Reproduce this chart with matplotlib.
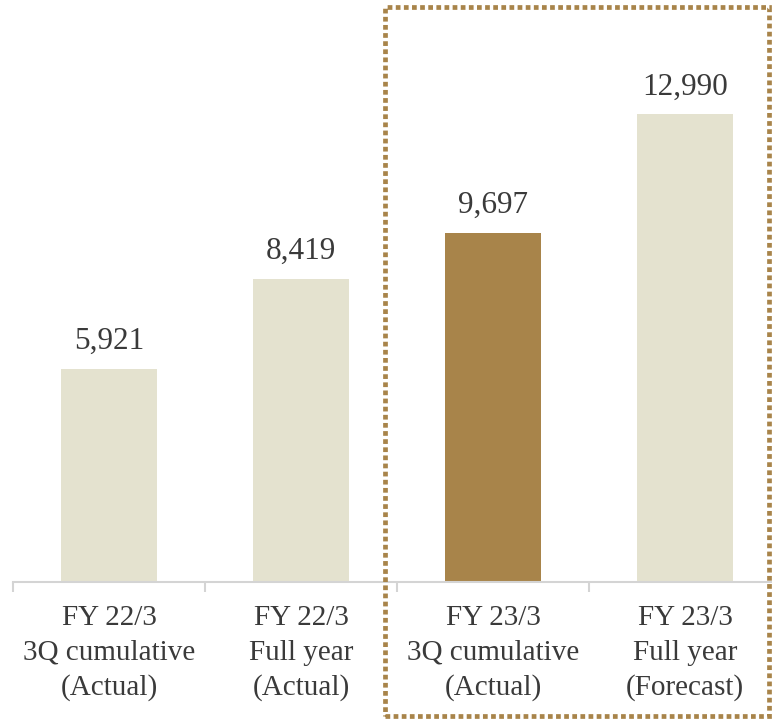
import matplotlib
matplotlib.use("Agg")
import matplotlib.pyplot as plt
from matplotlib.patches import Rectangle

# Sales figures by period
categories = [
    "FY 22/3\n3Q cumulative\n(Actual)",
    "FY 22/3\nFull year\n(Actual)",
    "FY 23/3\n3Q cumulative\n(Actual)",
    "FY 23/3\nFull year\n(Forecast)",
]
values = [5921, 8419, 9697, 12990]
bar_colors = ["#E4E2CF", "#E4E2CF", "#A8844A", "#E4E2CF"]

TEXT = "#3a3a3a"
W, H = 772, 721
plt.rcParams["font.family"] = ["Liberation Serif", "DejaVu Serif"]

fig = plt.figure(figsize=(W / 100, H / 100), dpi=100)
fig.patch.set_facecolor("white")

# Axes spans past the right edge so the last category keeps full width
ax = fig.add_axes([13 / W, (H - 582) / H, 768 / W, 582 / H])
x = list(range(len(values)))
bars = ax.bar(x, values, width=0.5, color=bar_colors, zorder=2)

ax.set_xlim(-0.5, 3.5)
ax.set_ylim(0, 582 * 27.75)

for rect, v in zip(bars, values):
    ax.annotate(f"{v:,}", (rect.get_x() + rect.get_width() / 2, v),
                xytext=(0, 14), textcoords="offset points",
                ha="center", va="baseline", fontsize=22.5, color=TEXT)

for s in ["top", "left", "right"]:
    ax.spines[s].set_visible(False)
ax.spines["bottom"].set_color("#D4D4D4")
ax.spines["bottom"].set_linewidth(1.5)
ax.set_yticks([])

ax.set_xticks(x)
ax.set_xticklabels(categories, fontsize=21, color=TEXT, linespacing=1.43)
ax.tick_params(axis="x", which="major", length=0, pad=16.5)
ax.set_xticks([-0.5, 0.5, 1.5, 2.5, 3.5], minor=True)
ax.tick_params(axis="x", which="minor", length=7, width=1.5,
               color="#D4D4D4", direction="out")

# Dotted frame around the current fiscal year
frame = Rectangle((385 / W, (H - 716) / H), (769 - 385) / W, (716 - 7) / H,
                  transform=fig.transFigure, fill=False,
                  edgecolor="#A8844A", linewidth=3.4,
                  linestyle=(0, (1.0, 0.72)), capstyle="butt",
                  joinstyle="miter")
fig.add_artist(frame)

fig.savefig("out.png", dpi=100)
